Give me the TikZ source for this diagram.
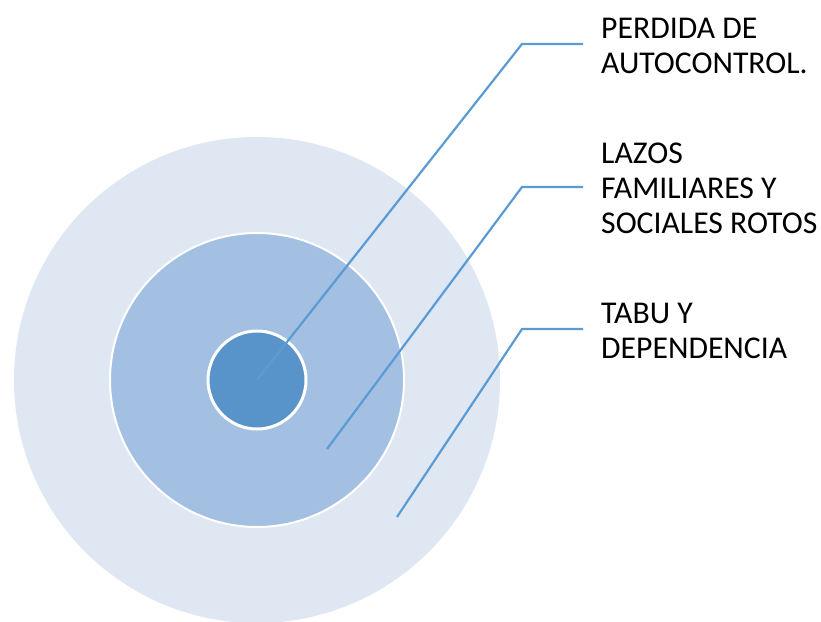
\documentclass[tikz,border=0pt]{standalone}
\usepackage{fontspec}
\setmainfont{Carlito}
\definecolor{ringout}{HTML}{DFE7F3}
\definecolor{ringmid}{HTML}{A3C0E2}
\definecolor{ringin}{HTML}{5893C9}
\definecolor{leader}{HTML}{5B9BD5}
\tikzset{
  label text/.style={anchor=west,inner sep=0pt,align=left,font=\fontsize{31.7}{35}\selectfont},
  leader line/.style={draw=leader,line width=2.2pt}
}

\begin{document}
\begin{tikzpicture}[x=1pt,y=-1pt]
            \useasboundingbox (0,0) rectangle (821,621);
            \fill[ringout] (257,380) circle (243);
            \draw[fill=ringmid,draw=white,line width=2pt] (257,380) circle (147);
            \draw[fill=ringin,draw=white,line width=3pt] (257,380) circle (49);

            \node[label text] (perdida) at (601,46) {PERDIDA DE\\AUTOCONTROL.};
            \node[label text] (lazos) at (601,188) {LAZOS\\FAMILIARES Y\\SOCIALES ROTOS};
            \node[label text] (tabu) at (601,331) {TABU Y\\DEPENDENCIA};

            \coordinate (inner) at (257,380);
            \coordinate (middle) at (327,449);
            \coordinate (outer) at (397,517);

            \draw[leader line] (inner) -- (522,44) -- ([xshift=-18pt]perdida.west |- 0,44);
            \draw[leader line] (middle) -- (522,187) -- ([xshift=-18pt]lazos.west |- 0,187);
            \draw[leader line] (outer) -- (522,329) -- ([xshift=-18pt]tabu.west |- 0,329);
\end{tikzpicture}
\end{document}
